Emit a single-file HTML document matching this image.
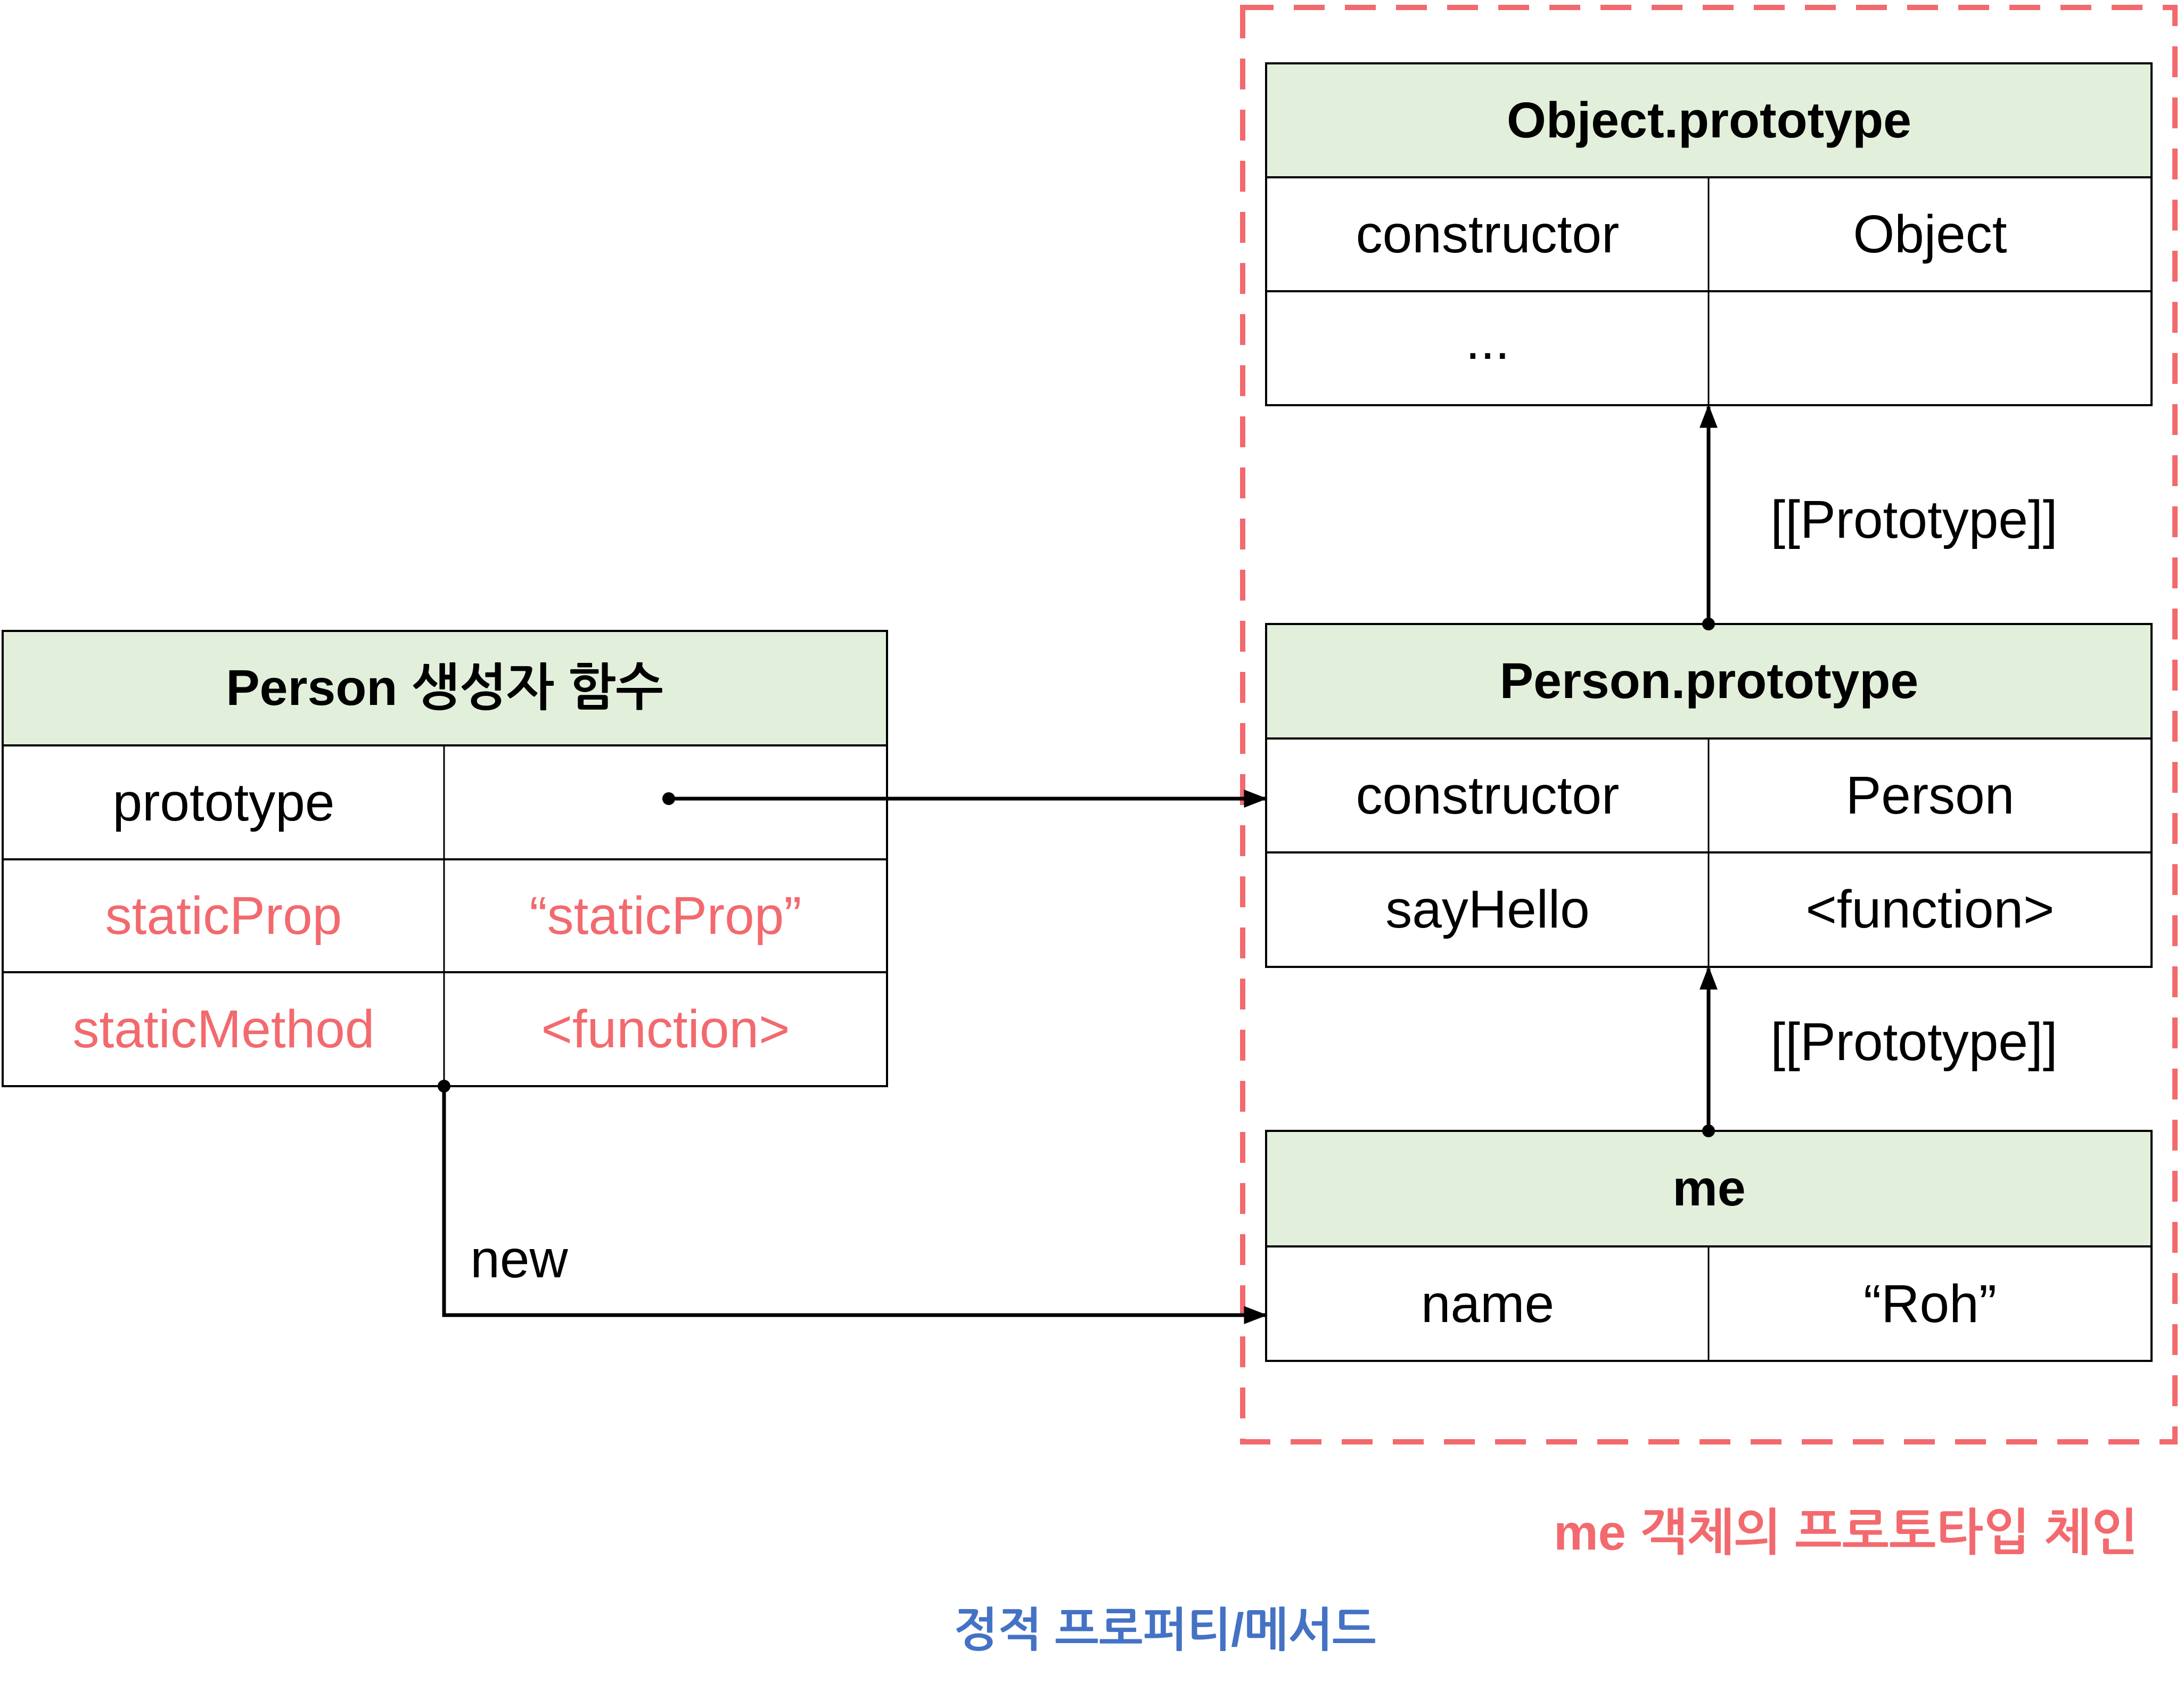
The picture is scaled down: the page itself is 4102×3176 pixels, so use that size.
<!DOCTYPE html>
<html><head><meta charset="utf-8"><style>
html,body{margin:0;padding:0;background:#fff;}
svg{display:block;}
text{font-family:"Liberation Sans","NanumGothic","Noto Sans CJK KR",sans-serif;font-size:100px;dominant-baseline:central;text-anchor:middle;fill:#000;}
.h{font-weight:bold;font-size:95px;}
.r{fill:#f26a6e;}
</style></head><body>
<svg width="4102" height="3176" viewBox="0 0 4102 3176" xmlns="http://www.w3.org/2000/svg">
<defs>
<marker id="a" viewBox="0 0 10 10" refX="9" refY="5" markerWidth="44" markerHeight="34" markerUnits="userSpaceOnUse" orient="auto" preserveAspectRatio="none"><path d="M0,0 L10,5 L0,10 z" fill="#000"/></marker>
</defs>
<rect x="2334" y="14" width="1751" height="2694" fill="none" stroke="#f26a6e" stroke-width="10" stroke-dasharray="58,38"/>

<rect x="5" y="1185" width="1661" height="215" fill="#e2efda"/>
<rect x="5" y="1185" width="1661" height="855" fill="none" stroke="#000" stroke-width="4"/>
<line x1="5" y1="1400" x2="1666" y2="1400" stroke="#000" stroke-width="4"/>
<line x1="5" y1="1614" x2="1666" y2="1614" stroke="#000" stroke-width="4"/>
<line x1="5" y1="1826" x2="1666" y2="1826" stroke="#000" stroke-width="4"/>
<line x1="834" y1="1400" x2="834" y2="2040" stroke="#000" stroke-width="3"/>
<text x="835" y="1292" class="h">Person 생성자 함수</text>
<text x="420" y="1507">prototype</text>
<text x="420" y="1720" class="r">staticProp</text>
<text x="1250" y="1720" class="r">“staticProp”</text>
<text x="420" y="1933" class="r">staticMethod</text>
<text x="1250" y="1933" class="r">&lt;function&gt;</text>

<rect x="2378" y="119" width="1663" height="214" fill="#e2efda"/>
<rect x="2378" y="119" width="1663" height="642" fill="none" stroke="#000" stroke-width="4"/>
<line x1="2378" y1="333" x2="4041" y2="333" stroke="#000" stroke-width="4"/>
<line x1="2378" y1="547" x2="4041" y2="547" stroke="#000" stroke-width="4"/>
<line x1="3209" y1="333" x2="3209" y2="761" stroke="#000" stroke-width="3"/>
<text x="3210" y="226" class="h">Object.prototype</text>
<text x="2794" y="440">constructor</text>
<text x="3625" y="440">Object</text>
<text x="2794" y="640">...</text>

<rect x="2378" y="1172" width="1663" height="215" fill="#e2efda"/>
<rect x="2378" y="1172" width="1663" height="644" fill="none" stroke="#000" stroke-width="4"/>
<line x1="2378" y1="1387" x2="4041" y2="1387" stroke="#000" stroke-width="4"/>
<line x1="2378" y1="1601" x2="4041" y2="1601" stroke="#000" stroke-width="4"/>
<line x1="3209" y1="1387" x2="3209" y2="1816" stroke="#000" stroke-width="3"/>
<text x="3210" y="1279" class="h">Person.prototype</text>
<text x="2794" y="1494">constructor</text>
<text x="3625" y="1494">Person</text>
<text x="2794" y="1708">sayHello</text>
<text x="3625" y="1708">&lt;function&gt;</text>

<rect x="2378" y="2124" width="1663" height="217" fill="#e2efda"/>
<rect x="2378" y="2124" width="1663" height="432" fill="none" stroke="#000" stroke-width="4"/>
<line x1="2378" y1="2341" x2="4041" y2="2341" stroke="#000" stroke-width="4"/>
<line x1="3209" y1="2341" x2="3209" y2="2556" stroke="#000" stroke-width="3"/>
<text x="3210" y="2232" class="h">me</text>
<text x="2794" y="2449">name</text>
<text x="3625" y="2449">“Roh”</text>

<circle cx="1256" cy="1500" r="12" fill="#000"/>
<line x1="1256" y1="1500" x2="2376" y2="1500" stroke="#000" stroke-width="7" marker-end="url(#a)"/>
<circle cx="834" cy="2040" r="12" fill="#000"/>
<polyline points="834,2040 834,2470 2376,2470" fill="none" stroke="#000" stroke-width="7" marker-end="url(#a)"/>
<text x="975" y="2365">new</text>
<circle cx="3209" cy="1172" r="12" fill="#000"/>
<line x1="3209" y1="1172" x2="3209" y2="764" stroke="#000" stroke-width="7" marker-end="url(#a)"/>
<text x="3595" y="976">[[Prototype]]</text>
<circle cx="3209" cy="2124" r="12" fill="#000"/>
<line x1="3209" y1="2124" x2="3209" y2="1819" stroke="#000" stroke-width="7" marker-end="url(#a)"/>
<text x="3595" y="1957">[[Prototype]]</text>

<text x="3467" y="2878" class="r" style="font-size:94px;font-weight:bold">me 객체의 프로토타입 체인</text>
<text x="2188" y="3061" style="font-size:88px;font-weight:bold;fill:#4472c4">정적 프로퍼티/메서드</text>
</svg>
</body></html>
